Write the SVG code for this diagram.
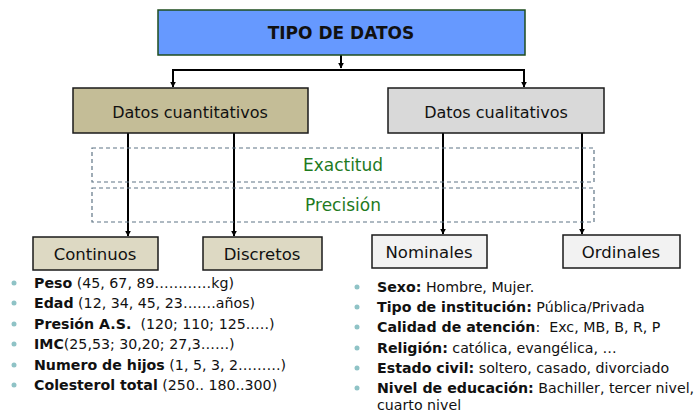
<svg xmlns="http://www.w3.org/2000/svg" width="694" height="412" viewBox="0 0 694 412">
<defs>
<marker id="ah" viewBox="0 0 10 10" refX="9" refY="5" markerWidth="6" markerHeight="6" orient="auto" markerUnits="userSpaceOnUse"><path d="M0,0 L10,5 L0,10 z" fill="#000"/></marker>
<style>
text{font-family:"DejaVu Sans",Verdana,sans-serif;fill:#111}
.box{stroke:#1a1a1a;stroke-width:1.5}
.lbl{font-size:16px;text-anchor:middle}
.dash{fill:none;stroke:#5f7585;stroke-width:1.2;stroke-dasharray:4,3}
.grn{fill:#1e7a1e;font-size:17px;text-anchor:middle}
.con{stroke:#000;stroke-width:2;fill:none}
.li{font-size:14.2px}
.b{font-weight:bold}
.dot{fill:#8fc3c6}
</style>
</defs>
<rect width="694" height="412" fill="#fff"/>
<g id="connectors">
<line class="con" x1="341" y1="55" x2="341" y2="68" marker-end="url(#ah)"/>
<polyline class="con" points="173,80 173,70 524,70 524,80"/>
<line class="con" x1="173" y1="78" x2="173" y2="87" marker-end="url(#ah)"/>
<line class="con" x1="524" y1="78" x2="524" y2="87" marker-end="url(#ah)"/>
<line class="con" x1="128" y1="133" x2="128" y2="236" marker-end="url(#ah)"/>
<line class="con" x1="234" y1="133" x2="234" y2="236" marker-end="url(#ah)"/>
<line class="con" x1="443" y1="133" x2="443" y2="234" marker-end="url(#ah)"/>
<line class="con" x1="582" y1="133" x2="582" y2="234" marker-end="url(#ah)"/>
</g>
<g id="tipo">
<rect x="158" y="10" width="367" height="45" fill="#6699ff" stroke="#1f4d1f" stroke-width="1.5"/>
<text x="341" y="39" class="lbl b" style="font-size:17px">TIPO DE DATOS</text>
</g>
<g id="cuantitativos">
<rect class="box" x="73" y="88" width="235" height="45" fill="#c4bd97"/>
<text x="190" y="118" class="lbl">Datos cuantitativos</text>
</g>
<g id="cualitativos">
<rect class="box" x="388" y="88" width="216" height="45" fill="#d9d9d9"/>
<text x="496" y="118" class="lbl">Datos cualitativos</text>
</g>
<g id="exactitud">
<rect class="dash" x="92" y="148" width="502" height="34"/>
<text x="343" y="171" class="grn">Exactitud</text>
</g>
<g id="precision">
<rect class="dash" x="92" y="188" width="502" height="34"/>
<text x="343" y="211" class="grn">Precisión</text>
</g>
<g id="continuos">
<rect class="box" x="33" y="237" width="125" height="33" fill="#ddd9c3"/>
<text x="95" y="260" class="lbl" style="font-size:16.5px">Continuos</text>
</g>
<g id="discretos">
<rect class="box" x="203" y="237" width="119" height="33" fill="#ddd9c3"/>
<text x="262" y="260" class="lbl" style="font-size:16.5px">Discretos</text>
</g>
<g id="nominales">
<rect class="box" x="372" y="235" width="115" height="33" fill="#f2f2f2"/>
<text x="429" y="258" class="lbl" style="font-size:16.5px">Nominales</text>
</g>
<g id="ordinales">
<rect class="box" x="563" y="235" width="117" height="33" fill="#f2f2f2"/>
<text x="621" y="258" class="lbl" style="font-size:16.5px">Ordinales</text>
</g>
<g id="lista-cuantitativos">
<circle class="dot" cx="14" cy="283" r="2.5"/>
<circle class="dot" cx="14" cy="303" r="2.5"/>
<circle class="dot" cx="14" cy="324" r="2.5"/>
<circle class="dot" cx="14" cy="344" r="2.5"/>
<circle class="dot" cx="14" cy="365" r="2.5"/>
<circle class="dot" cx="14" cy="385" r="2.5"/>
<text x="34" y="288" class="li"><tspan class="b">Peso</tspan> (45, 67, 89…………kg)</text>
<text x="34" y="308" class="li"><tspan class="b">Edad</tspan> (12, 34, 45, 23…….años)</text>
<text x="34" y="329" class="li"><tspan class="b">Presión A.S.</tspan>&#160; (120; 110; 125.….)</text>
<text x="34" y="349" class="li"><tspan class="b">IMC</tspan>(25,53; 30,20; 27,3……)</text>
<text x="34" y="370" class="li"><tspan class="b">Numero de hijos</tspan> (1, 5, 3, 2………)</text>
<text x="34" y="390" class="li"><tspan class="b">Colesterol total</tspan> (250.. 180..300)</text>
</g>
<g id="lista-cualitativos">
<circle class="dot" cx="357" cy="287" r="2.5"/>
<circle class="dot" cx="357" cy="307" r="2.5"/>
<circle class="dot" cx="357" cy="327" r="2.5"/>
<circle class="dot" cx="357" cy="348" r="2.5"/>
<circle class="dot" cx="357" cy="368" r="2.5"/>
<circle class="dot" cx="357" cy="388" r="2.5"/>
<text x="377" y="292" class="li"><tspan class="b">Sexo:</tspan> Hombre, Mujer.</text>
<text x="377" y="312" class="li"><tspan class="b">Tipo de institución:</tspan> Pública/Privada</text>
<text x="377" y="332" class="li"><tspan class="b">Calidad de atención</tspan>:&#160; Exc, MB, B, R, P</text>
<text x="377" y="353" class="li"><tspan class="b">Religión:</tspan> católica, evangélica, …</text>
<text x="377" y="373" class="li"><tspan class="b">Estado civil:</tspan> soltero, casado, divorciado</text>
<text x="377" y="393" class="li"><tspan class="b">Nivel de educación:</tspan> Bachiller, tercer nivel,</text>
<text x="377" y="410" class="li">cuarto nivel</text>
</g>
</svg>
